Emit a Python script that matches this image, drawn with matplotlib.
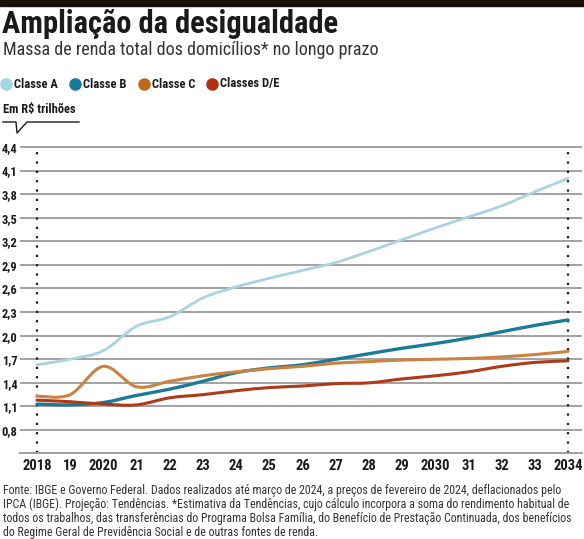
import matplotlib
matplotlib.use("Agg")
import matplotlib.pyplot as plt
import numpy as np
from matplotlib.path import Path
from matplotlib.patches import PathPatch, Rectangle
from matplotlib import font_manager

# dados (R$ trilhões)
anos = list(range(2018, 2035))
classe_a = [1.63, 1.70, 1.81, 2.12, 2.24, 2.48, 2.62, 2.73, 2.83, 2.93, 3.07, 3.22, 3.37, 3.51, 3.65, 3.83, 4.00]
classe_b = [1.13, 1.12, 1.15, 1.24, 1.32, 1.42, 1.53, 1.59, 1.63, 1.70, 1.77, 1.84, 1.90, 1.97, 2.05, 2.13, 2.20]
classe_c = [1.23, 1.25, 1.61, 1.35, 1.42, 1.49, 1.54, 1.58, 1.61, 1.65, 1.67, 1.69, 1.70, 1.71, 1.73, 1.76, 1.80]
classe_de = [1.18, 1.16, 1.13, 1.12, 1.21, 1.25, 1.30, 1.34, 1.36, 1.39, 1.40, 1.45, 1.49, 1.54, 1.61, 1.66, 1.68]

series = ["Classe A", "Classe B", "Classe C", "Classes D/E"]
cores = ["#a9d2e2", "#1b7a98", "#cc8140", "#ad3a18"]
cores_leg = ["#a6d3e6", "#157a9c", "#c0681a", "#b0300f"]
larguras = [2.0, 2.4, 2.2, 2.2]

yticks = [0.8, 1.1, 1.4, 1.7, 2.0, 2.3, 2.6, 2.9, 3.2, 3.5, 3.8, 4.1, 4.4]
ytick_labels = [f"{v:.1f}".replace(".", ",") for v in yticks]
xtick_labels = ["2018", "19", "2020", "21", "22", "23", "24", "25", "26",
                "27", "28", "29", "2030", "31", "32", "33", "2034"]

nomes = {f.name for f in font_manager.fontManager.ttflist}
narrow = next((n for n in ["Liberation Sans Narrow", "Roboto Condensed",
                           "Open Sans Condensed"] if n in nomes), "DejaVu Sans")
plt.rcParams["font.family"] = [narrow, "DejaVu Sans"]

W, H = 584, 539
fig = plt.figure(figsize=(W / 100, H / 100), dpi=100)


def fx(x):
    return x / W


def fy(y):
    return 1 - y / H


def suave(xs, ys):
    # curva de Catmull-Rom convertida em Bezier cubica
    p = np.column_stack([xs, ys]).astype(float)
    verts = [p[0]]
    codes = [Path.MOVETO]
    n = len(p)
    for i in range(n - 1):
        p0 = p[i - 1] if i > 0 else p[i]
        p3 = p[i + 2] if i + 2 < n else p[i + 1]
        c1 = p[i] + (p[i + 1] - p0) / 6
        c2 = p[i + 1] - (p3 - p[i]) / 6
        verts += [c1, c2, p[i + 1]]
        codes += [Path.CURVE4] * 3
    return Path(verts, codes)


# barra preta no topo
fig.patches.append(Rectangle((0, fy(6)), 1, 6 / H, transform=fig.transFigure,
                             color="#1a1008", zorder=0))

fig.text(fx(2), fy(24), "Ampliação da desigualdade", fontsize=22, fontweight="bold",
         va="center", ha="left", color="#1a1a1a")
fig.text(fx(3), fy(50), "Massa de renda total dos domicílios* no longo prazo", fontsize=13,
         va="center", ha="left", color="#333333")

# legenda
leg_x = [6, 75, 144, 212]
for x, nome, c in zip(leg_x, series, cores_leg):
    fig.add_artist(plt.Line2D([fx(x)], [fy(84)], marker="o", markersize=8, color=c,
                              transform=fig.transFigure))
    fig.text(fx(x + 8), fy(84), nome, fontsize=9, fontweight="bold", va="center",
             ha="left", color="#1a1a1a")

fig.text(fx(3), fy(110), "Em R$ trilhões", fontsize=9, fontweight="bold", va="center",
         ha="left", color="#1a1a1a")
cx = [3, 16, 17, 27, 79]
cy = [122, 122, 133, 122, 122]
fig.add_artist(plt.Line2D([fx(v) for v in cx], [fy(v) for v in cy], color="#1a1a1a",
                          lw=1.0, transform=fig.transFigure))

ax = fig.add_axes([fx(20), fy(453), fx(582) - fx(20), (453 - 143) / H])
ax.set_xlim(2017.49, 2034.42)
ax.set_ylim(0.508, 4.45)

for v in yticks:
    ax.axhline(v, color="#9a9a9a", lw=1.3, zorder=1)
for a in (2018, 2034):
    ax.plot([a, a], [0.51, 4.42], color="#1a1a1a", lw=1.6, linestyle=(0, (1, 3.2)), zorder=2)

dados = [classe_a, classe_b, classe_c, classe_de]
ordem = [0, 3, 2, 1]
for i in ordem:
    ax.add_patch(PathPatch(suave(anos, dados[i]), facecolor="none", edgecolor=cores[i],
                           lw=larguras[i], capstyle="round", zorder=3 + i))

for s in ["top", "right", "left"]:
    ax.spines[s].set_visible(False)
ax.spines["bottom"].set_color("#9a9a9a")
ax.spines["bottom"].set_linewidth(1.3)

ax.set_yticks(yticks)
ax.set_yticklabels(ytick_labels, fontsize=9, fontweight="bold", color="#1a1a1a")
ax.set_xticks(anos)
ax.set_xticklabels(xtick_labels, fontsize=10.5, fontweight="bold", color="#1a1a1a")
ax.tick_params(axis="y", length=0, pad=2)
ax.tick_params(axis="x", length=0, pad=4)

nota = ("Fonte: IBGE e Governo Federal. Dados realizados até março de 2024, a preços de fevereiro de 2024, deflacionados pelo\n"
        "IPCA (IBGE). Projeção: Tendências. *Estimativa da Tendências, cujo cálculo incorpora a soma do rendimento habitual de\n"
        "todos os trabalhos, das transferências do Programa Bolsa Família, do Benefício de Prestação Continuada, dos benefícios\n"
        "do Regime Geral de Previdência Social e de outras fontes de renda.")
fig.text(fx(3), fy(484), nota, fontsize=8.6, va="top", ha="left", color="#333333",
         linespacing=1.08)

fig.savefig("out.png", dpi=100)
